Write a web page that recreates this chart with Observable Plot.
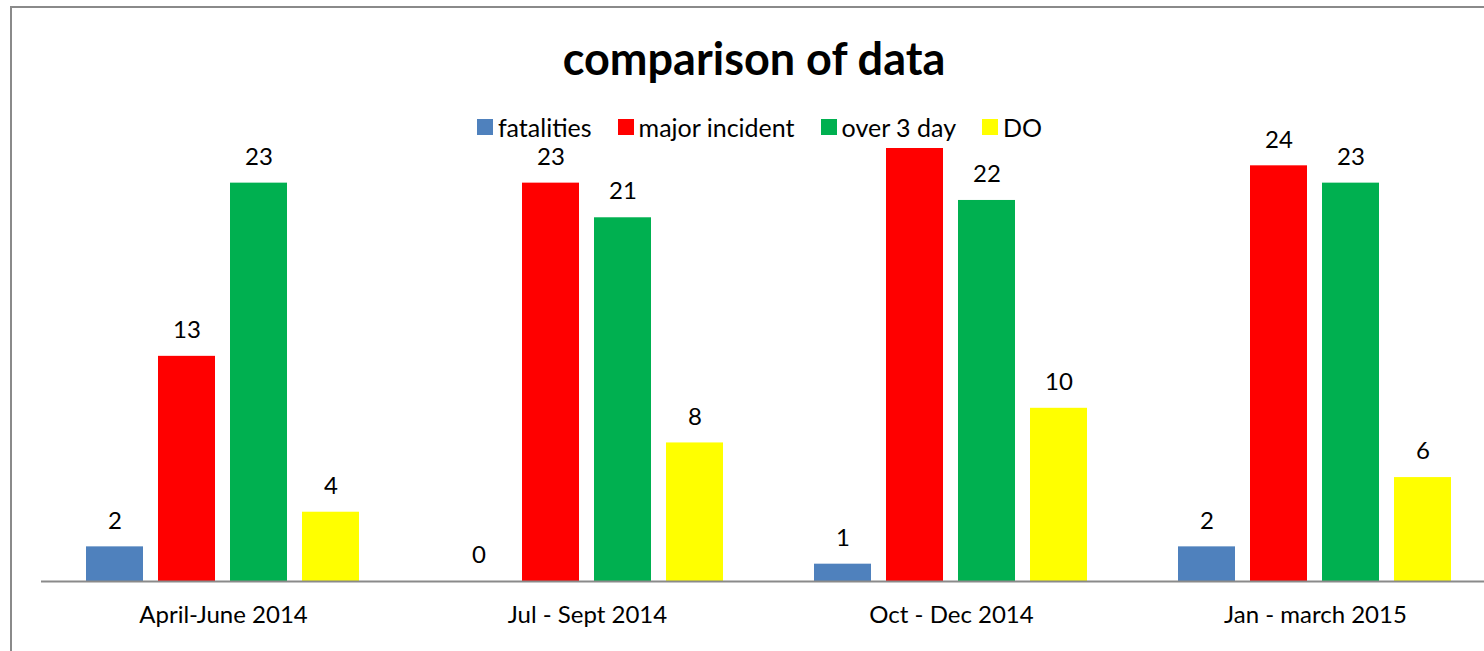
<!DOCTYPE html>
<html>
<head>
<meta charset="utf-8">
<script src="https://cdn.jsdelivr.net/npm/d3@7"></script>
<script src="https://cdn.jsdelivr.net/npm/@observablehq/plot@0.6"></script>
<style>
  html, body { margin: 0; padding: 0; width: 1484px; height: 651px; overflow: hidden; background: #fff; font-family: Lato, "Noto Sans", sans-serif; }
  #frame { position: absolute; left: 10px; top: 6px; width: 2000px; height: 2000px; border-left: 2px solid #8a8a8a; border-top: 2px solid #8a8a8a; }
  #title { position: absolute; left: 0; top: 32px; width: 1508px; text-align: center; font-weight: bold; font-size: 45px; color: #000; line-height: 52px; z-index: 2; }
  #legend { position: absolute; left: 0; top: 117px; width: 1519px; display: flex; justify-content: center; font-size: 25px; line-height: 20px; color: #000; z-index: 2; }
  .item { display: flex; align-items: center; margin: 0 13px; }
  .sw { width: 16px; height: 16px; margin-right: 5px; }
  .lt { display: inline-block; height: 20px; line-height: 20px; }
  #chart { position: absolute; left: 0; top: 100px; width: 1510px; }
  #chart svg { max-width: none !important; }
</style>
</head>
<body>
<div id="frame"></div>
<div id="title">comparison of data</div>
<div id="legend"></div>
<div id="chart"></div>
<script>
const quarters = ["April-June 2014", "Jul - Sept 2014", "Oct - Dec 2014", "Jan - march 2015"];
const series = ["fatalities", "major incident", "over 3 day", "DO"];
const fatalities = [2, 0, 1, 2];
const majorIncident = [13, 23, 25, 24];
const over3Day = [23, 21, 22, 23];
const doValues = [4, 8, 10, 6];
const colors = ["#4F81BD", "#FF0000", "#00B050", "#FFFF00"];
const hiddenLabels = [["Oct - Dec 2014", "major incident"]];

const seriesValues = [fatalities, majorIncident, over3Day, doValues];
const data = [];
quarters.forEach((q, i) => {
  series.forEach((s, j) => {
    data.push({quarter: q, series: s, value: seriesValues[j][i]});
  });
});
const labelData = data.filter(d => !hiddenLabels.some(([q, s]) => q === d.quarter && s === d.series));

const legend = document.getElementById("legend");
series.forEach((s, j) => {
  const it = document.createElement("div");
  it.className = "item";
  const sw = document.createElement("span");
  sw.className = "sw";
  sw.style.background = colors[j];
  const t = document.createElement("span");
  t.className = "lt";
  t.textContent = s;
  it.appendChild(sw);
  it.appendChild(t);
  legend.appendChild(it);
});

const chart = Plot.plot({
  width: 1510,
  height: 551,
  marginLeft: 41,
  marginRight: 13,
  marginTop: 48,
  marginBottom: 70,
  style: {fontFamily: "Lato, sans-serif", fontSize: "24px", color: "#000", background: "transparent", maxWidth: "none"},
  fx: {domain: quarters, paddingInner: 0, paddingOuter: 0, label: null, axis: "bottom", tickSize: 0, tickPadding: 24},
  x: {domain: series, paddingInner: 0.205, paddingOuter: 0.596, axis: null},
  y: {domain: [0, 25], axis: null},
  color: {domain: series, range: colors},
  marks: [
    Plot.barY(data, {fx: "quarter", x: "series", y: "value", fill: "series"}),
    Plot.text(labelData, {fx: "quarter", x: "series", y: "value", text: d => String(d.value), dy: -26, fill: "#000"}),
    Plot.ruleY([0], {stroke: "#8a8a8a", strokeWidth: 2})
  ]
});
document.getElementById("chart").appendChild(chart);
</script>
</body>
</html>
